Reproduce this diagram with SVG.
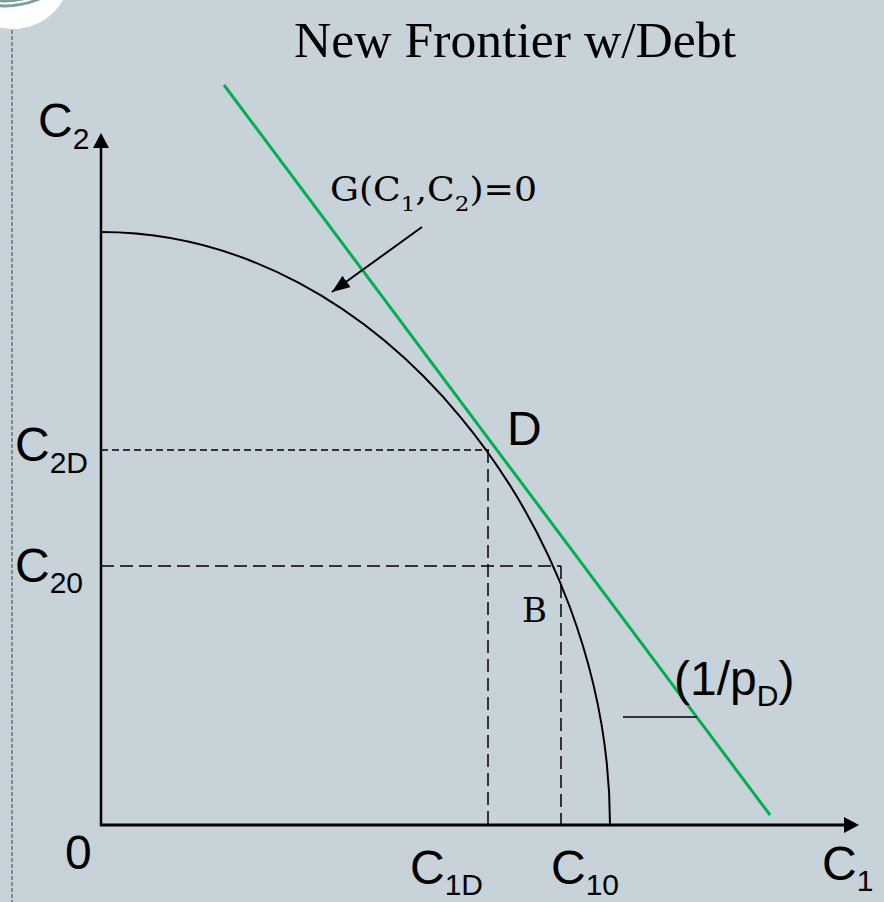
<svg xmlns="http://www.w3.org/2000/svg" width="884" height="902" viewBox="0 0 884 902">
<style>
.sans{font-family:"Liberation Sans",Arial,sans-serif;fill:#000}
.serif{font-family:"DejaVu Serif","Liberation Serif",serif;fill:#000}
.big{font-size:48px}
.sub{font-size:30px}
.dash1{stroke:#000;stroke-width:1.5;stroke-dasharray:7 4;fill:none}
.dash2{stroke:#000;stroke-width:1.5;stroke-dasharray:13 6;fill:none}
</style>
<defs>
<marker id="ah" viewBox="0 0 18 14" refX="18" refY="7" markerWidth="18" markerHeight="14" orient="auto" markerUnits="userSpaceOnUse">
<path d="M0,0 L18,7 L0,14 z" fill="#000"/>
</marker>
</defs>
<rect width="884" height="902" fill="#C7D2D9"/>
<g id="decor">
<circle cx="13" cy="-29" r="58" fill="#fff"/>
<circle cx="5" cy="-80" r="81" fill="none" stroke="#7C9F9C" stroke-width="3"/>
<circle cx="5" cy="-80" r="86" fill="none" stroke="#7C9F9C" stroke-width="3"/>
<line x1="12" y1="30" x2="12" y2="902" stroke="#6E7391" stroke-width="1.5" stroke-dasharray="4 2"/>
</g>
<g id="title"><text x="294" y="57" font-family="'Liberation Serif','DejaVu Serif',serif" font-size="50" textLength="442" lengthAdjust="spacingAndGlyphs">New Frontier w/Debt</text></g>
<g id="axes">
<line x1="101" y1="146" x2="101" y2="826" stroke="#000" stroke-width="2.5"/>
<path d="M101,133 L93,148 L109,148 z" fill="#000"/>
<line x1="100" y1="825" x2="846" y2="825" stroke="#000" stroke-width="3"/>
<path d="M859,825 L844,817 L844,833 z" fill="#000"/>
</g>
<g id="guides">
<line class="dash1" x1="101" y1="450" x2="489" y2="450"/>
<line class="dash2" x1="101" y1="566" x2="561" y2="566"/>
<line class="dash2" x1="488" y1="450" x2="488" y2="825"/>
<line class="dash2" x1="561" y1="566" x2="561" y2="825"/>
</g>
<g id="frontier">
<path d="M101,232 C381.5,232 610,528.5 610,825" fill="none" stroke="#000" stroke-width="2"/>
</g>
<g id="budget-line">
<line x1="224" y1="85" x2="770" y2="815" stroke="#00B050" stroke-width="3"/>
<line x1="623" y1="717" x2="697" y2="717" stroke="#000" stroke-width="1.5"/>
</g>
<g id="connectors">
<line x1="422" y1="227" x2="332" y2="292" stroke="#000" stroke-width="2" marker-end="url(#ah)"/>
</g>
<g id="labels">
<text class="serif" x="330" y="201" font-size="33" textLength="207" lengthAdjust="spacingAndGlyphs">G(C<tspan font-size="21" dy="10">1</tspan><tspan dy="-10">,C</tspan><tspan font-size="21" dy="10">2</tspan><tspan dy="-10">)=0</tspan></text>
<text class="sans big" x="38" y="137">C<tspan class="sub" dy="12">2</tspan></text>
<text class="sans big" x="15" y="461">C<tspan class="sub" dy="12">2D</tspan></text>
<text class="sans big" x="15" y="582">C<tspan class="sub" dy="11">20</tspan></text>
<text class="sans big" x="507" y="445">D</text>
<text class="serif" x="522" y="622" font-size="34">B</text>
<text class="sans big" x="674" y="695">(1/p<tspan class="sub" dy="11">D</tspan><tspan dy="-11">)</tspan></text>
<text class="sans big" x="65" y="869">0</text>
<text class="sans big" x="410" y="884">C<tspan class="sub" dy="11">1D</tspan></text>
<text class="sans big" x="551" y="884">C<tspan class="sub" dy="11">10</tspan></text>
<text class="sans big" x="822" y="880">C<tspan class="sub" dy="11">1</tspan></text>
</g>
</svg>
